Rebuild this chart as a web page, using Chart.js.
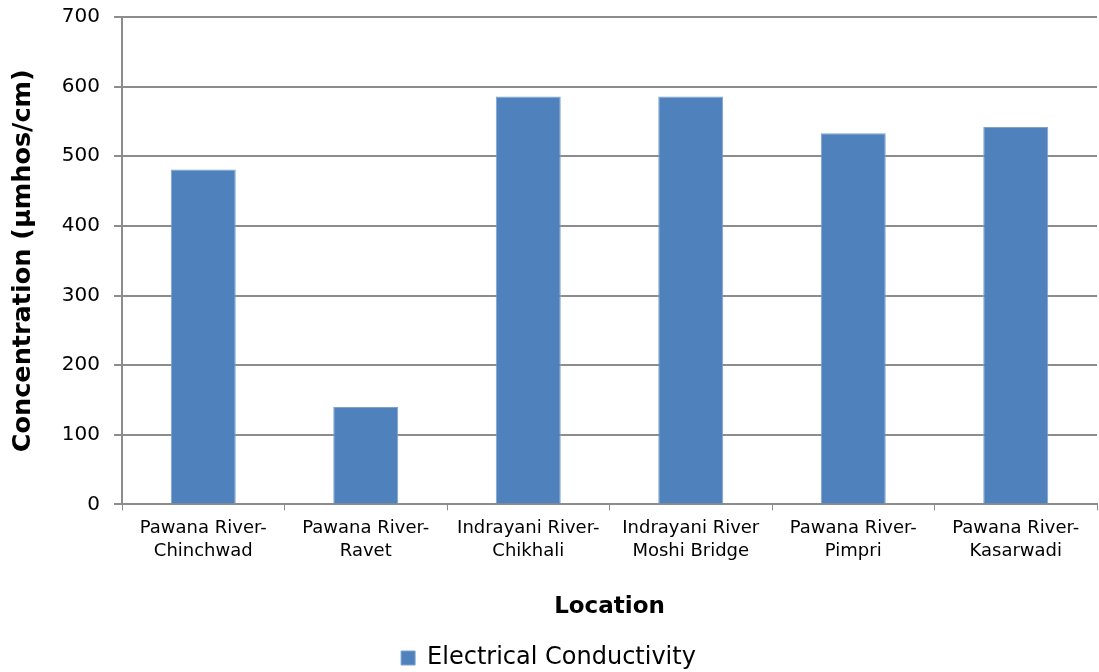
<!DOCTYPE html>
<html>
<head>
<meta charset="utf-8">
<script src="https://cdn.jsdelivr.net/npm/chart.js@4/dist/chart.umd.min.js"></script>
<style>
  html, body { margin: 0; padding: 0; background: #fff; overflow: hidden; }
  #wrap { width: 1099px; height: 682px; position: relative; }
</style>
</head>
<body>
<div id="wrap"><canvas id="c"></canvas></div>
<script>
// Sampling locations (two-line labels)
const locations = [
  ["Pawana River-", "Chinchwad"],
  ["Pawana River-", "Ravet"],
  ["Indrayani River-", "Chikhali"],
  ["Indrayani River", "Moshi Bridge"],
  ["Pawana River-", "Pimpri"],
  ["Pawana River-", "Kasarwadi"]
];
// Electrical conductivity, µmhos/cm
const conductivity = [481, 140, 586, 586, 533, 542];
const seriesName = "Electrical Conductivity";
const yTitle = "Concentration (µmhos/cm)";
const xTitle = "Location";

const FONT = "'DejaVu Sans', Verdana, sans-serif";
const GRID = "#8c8c8c";

new Chart(document.getElementById("c"), {
  type: "bar",
  data: {
    labels: locations,
    datasets: [{
      label: seriesName,
      data: conductivity,
      backgroundColor: "#4F81BD",
      borderColor: "#7da2d0",
      borderWidth: 1,
      barPercentage: 0.4,
      categoryPercentage: 1.0
    }]
  },
  options: {
    responsive: true,
    maintainAspectRatio: false,
    animation: false,
    layout: { padding: { left: 0, right: 2, top: 17, bottom: 2 } },
    plugins: {
      tooltip: { enabled: false },
      legend: {
        position: "bottom",
        labels: {
          color: "#000",
          font: { family: FONT, size: 24 },
          boxWidth: 14,
          boxHeight: 14,
          padding: 2
        }
      }
    },
    scales: {
      x: {
        grid: {
          offset: true,
          drawOnChartArea: false,
          color: GRID,
          tickLength: 6,
          lineWidth: 1
        },
        border: { color: GRID, width: 2 },
        ticks: {
          color: "#000",
          font: { family: FONT, size: 18, lineHeight: 1.25 },
          maxRotation: 0,
          autoSkip: false,
          padding: 7
        },
        title: {
          display: true,
          text: xTitle,
          color: "#000",
          font: { family: FONT, size: 23, weight: "bold" },
          padding: { top: 24, bottom: 23 }
        }
      },
      y: {
        min: 0,
        max: 700,
        ticks: {
          stepSize: 100,
          color: "#000",
          font: { family: FONT, size: 20 },
          padding: 14
        },
        grid: {
          color: GRID,
          lineWidth: 2,
          tickLength: 8
        },
        border: { color: GRID, width: 2 },
        title: {
          display: true,
          text: yTitle,
          color: "#000",
          font: { family: FONT, size: 25.5, weight: "bold" },
          padding: { top: 8, bottom: 2 }
        },
        afterFit: (scale) => {
          scale.width = 122;
          scale.paddingTop = 0;
          scale.paddingBottom = 0;
        }
      }
    }
  }
});
</script>
</body>
</html>
